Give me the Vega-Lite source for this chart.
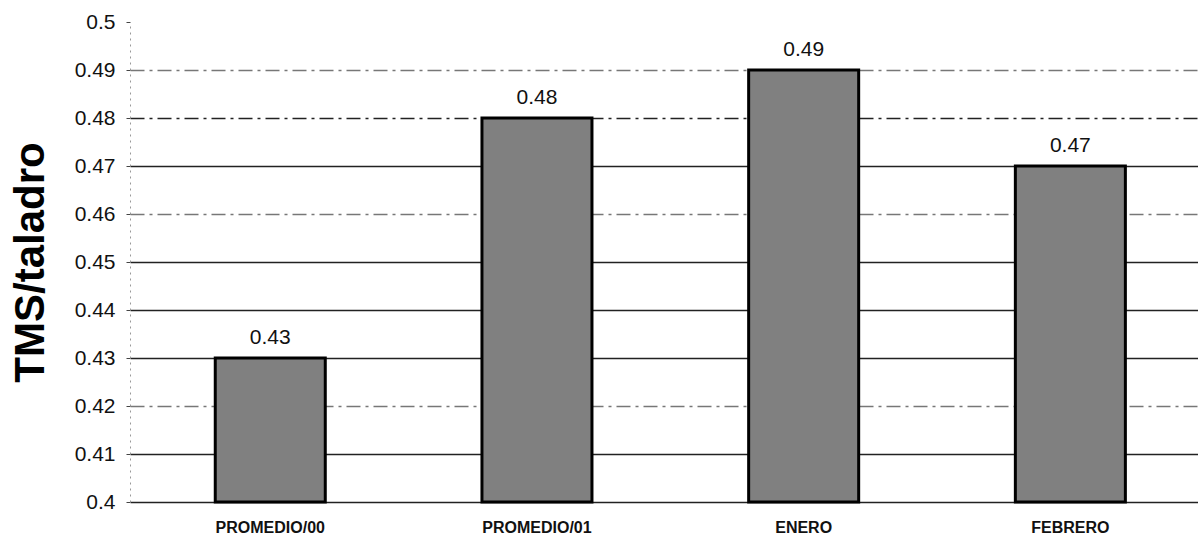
{
  "$schema": "https://vega.github.io/schema/vega-lite/v6.json",
  "autosize": {"type": "none"},
  "padding": {"left": 130, "top": 22, "right": 0, "bottom": 35},
  "width": 1068,
  "height": 480,
  "background": "white",
  "config": {
    "font": "Liberation Sans",
    "view": {"stroke": null}
  },
  "data": {
    "values": [
      {"periodo": "PROMEDIO/00", "valor": 0.43},
      {"periodo": "PROMEDIO/01", "valor": 0.48},
      {"periodo": "ENERO", "valor": 0.49},
      {"periodo": "FEBRERO", "valor": 0.47}
    ]
  },
  "encoding": {
    "x": {
      "field": "periodo",
      "type": "nominal",
      "sort": null,
      "scale": {"paddingInner": 0.5875, "paddingOuter": 0.296, "align": 0.54},
      "axis": {
        "title": null,
        "labelAngle": 0,
        "labelFont": "Liberation Sans",
        "labelFontSize": 16,
        "labelFontWeight": "bold",
        "labelColor": "#111",
        "labelPadding": 17,
        "ticks": false,
        "domain": false
      }
    },
    "y": {
      "field": "valor",
      "type": "quantitative",
      "scale": {"domain": [0.4, 0.5], "zero": false, "nice": false},
      "axis": {
        "title": "TMS/taladro",
        "titleFont": "Liberation Sans",
        "titleFontSize": 42,
        "titleFontWeight": "bold",
        "titleColor": "#000",
        "titlePadding": 22,
        "values": [0.4, 0.41, 0.42, 0.43, 0.44, 0.45, 0.46, 0.47, 0.48, 0.49, 0.5],
        "format": ".2~f",
        "labelFont": "Liberation Sans",
        "labelFontSize": 21,
        "labelColor": "#111",
        "labelPadding": 11,
        "tickSize": 4,
        "tickColor": "#444",
        "domainColor": "#999",
        "domainDash": [2, 4],
        "grid": true,
        "gridColor": {"condition": {"test": "abs(datum.value - 0.49) < 0.001 || abs(datum.value - 0.46) < 0.001 || abs(datum.value - 0.42) < 0.001 || abs(datum.value - 0.5) < 0.001", "value": "#777"}, "value": "#222"},
        "gridDash": {"condition": {"test": "abs(datum.value - 0.49) < 0.001 || abs(datum.value - 0.46) < 0.001 || abs(datum.value - 0.42) < 0.001 || abs(datum.value - 0.48) < 0.001", "value": [14, 5, 3, 5]}, "value": []},
        "gridOpacity": {"condition": {"test": "abs(datum.value - 0.5) < 0.001", "value": 0}, "value": 1},
        "gridWidth": 1.4
      }
    }
  },
  "layer": [
    {
      "mark": {"type": "bar", "fill": "#808080", "stroke": "#000", "strokeWidth": 3},
      "encoding": {"y2": {"datum": 0.4}}
    },
    {
      "mark": {"type": "text", "baseline": "alphabetic", "dy": -14, "fontSize": 21, "color": "#111", "font": "Liberation Sans"},
      "encoding": {"text": {"field": "valor", "type": "quantitative", "format": ".2f"}}
    }
  ]
}
